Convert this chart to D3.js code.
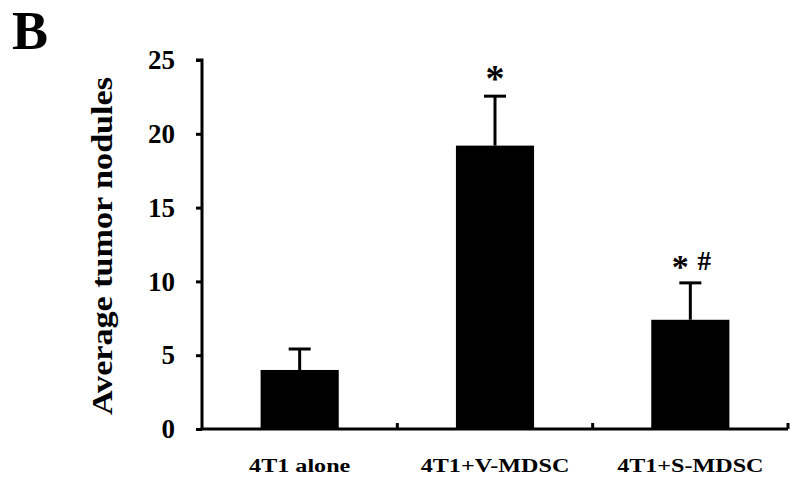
<!DOCTYPE html>
<html><head><meta charset="utf-8">
<script src="https://cdn.jsdelivr.net/npm/d3@7"></script>
<style>
body{margin:0;background:#fff}
svg text{font-family:"Liberation Serif","Times New Roman",serif;font-weight:bold;fill:#000}
</style>
</head><body><svg id="c" width="800" height="483"></svg>
<script>
const categories = ["4T1 alone", "4T1+V-MDSC", "4T1+S-MDSC"];
const means = [4.0, 19.2, 7.4];
const sems = [1.42, 3.35, 2.5];
const yTicks = [0, 5, 10, 15, 20, 25];
const starMarks = ["", "*", "*"];
const hashMarks = ["", "", "#"];
const yTitle = "Average tumor nodules";
const panelLabel = "B";

const svg = d3.select("#c");
const x0 = 202, x1 = 788, yTop = 60, yBot = 429;
const x = d3.scaleBand().domain(categories).range([x0, x1]).paddingInner(0.6).paddingOuter(0.3);
const y = d3.scaleLinear().domain([0, 25]).range([yBot, yTop]);

// Panel label
svg.append("text").attr("x", 12).attr("y", 49).attr("font-size", 54).text(panelLabel);

// Bars
svg.selectAll("rect.bar").data(categories).join("rect")
  .attr("class", "bar")
  .attr("x", d => x(d)).attr("width", x.bandwidth())
  .attr("y", (d, i) => y(means[i])).attr("height", (d, i) => y(0) - y(means[i]))
  .attr("fill", "#000");

// Error bars
const capW = 22;
categories.forEach((c, i) => {
  const cx = x(c) + x.bandwidth() / 2;
  const g = svg.append("g").attr("stroke", "#000").attr("stroke-width", 3);
  g.append("line").attr("x1", cx).attr("x2", cx).attr("y1", y(means[i])).attr("y2", y(means[i] + sems[i]));
  g.append("line").attr("x1", cx - capW / 2).attr("x2", cx + capW / 2)
    .attr("y1", y(means[i] + sems[i])).attr("y2", y(means[i] + sems[i]));
});

// Significance marks
categories.forEach((c, i) => {
  const cx = x(c) + x.bandwidth() / 2;
  const top = y(means[i] + sems[i]);
  const both = starMarks[i] && hashMarks[i];
  if (starMarks[i]) {
    svg.append("text").attr("x", both ? cx - 10 : cx).attr("y", top - 5)
      .attr("text-anchor", "middle").attr("font-size", both ? 34 : 38).text(starMarks[i]);
  }
  if (hashMarks[i]) {
    svg.append("text").attr("x", cx + 14).attr("y", top - 13)
      .attr("text-anchor", "middle").attr("font-size", 27).text(hashMarks[i]);
  }
});

// Y axis
const yAxis = svg.append("g").attr("transform", `translate(${x0},0)`)
  .call(d3.axisLeft(y).tickValues(yTicks).tickSize(6).tickPadding(21).tickFormat(d3.format("d")));
yAxis.select(".domain").attr("stroke", "#000").attr("stroke-width", 3).attr("d", `M-6,${yTop}H0V${yBot}`);
yAxis.selectAll(".tick line").attr("stroke", "#000").attr("stroke-width", 3);
yAxis.selectAll(".tick text").attr("font-size", 27).attr("font-family", "Liberation Serif").attr("font-weight", "bold");

// X axis line and upward ticks at category boundaries
const xa = svg.append("g").attr("stroke", "#000").attr("stroke-width", 3);
xa.append("line").attr("x1", x0 - 1.5).attr("x2", x1).attr("y1", yBot).attr("y2", yBot);
categories.forEach(c => {
  const bx = x(c) - x.step() * x.paddingInner() / 2 + x.step();
  xa.append("line").attr("x1", bx).attr("x2", bx).attr("y1", yBot).attr("y2", yBot - 6);
});

// Category labels
svg.selectAll("text.cat").data(categories).join("text")
  .attr("class", "cat")
  .attr("transform", d => `translate(${x(d) + x.bandwidth() / 2},472) scale(1.27,1)`)
  .attr("text-anchor", "middle").attr("font-size", 19).text(d => d);

// Y title
svg.append("text")
  .attr("transform", `translate(112,246) rotate(-90)`)
  .attr("text-anchor", "middle").attr("font-size", 30)
  .attr("textLength", 338).attr("lengthAdjust", "spacingAndGlyphs")
  .text(yTitle);
</script></body></html>
